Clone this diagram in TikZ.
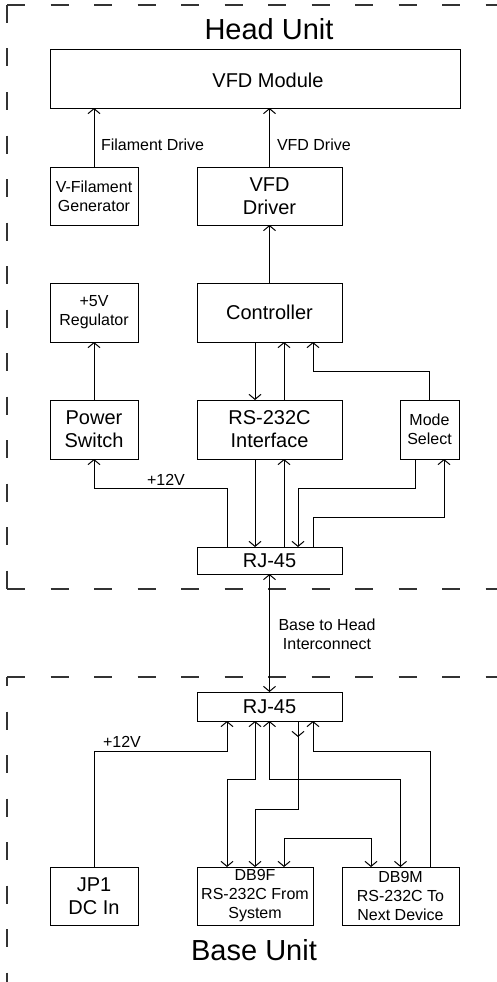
\documentclass[tikz,border=0pt]{standalone}
\usepackage{fontspec}
\setmainfont{Liberation Sans}
\usetikzlibrary{arrows.meta}
\begin{document}
\begin{tikzpicture}[x=1pt,y=-1pt,
  box/.style={draw,line width=1pt,inner sep=0pt,outer sep=0pt,align=center},
  sm/.style={font=\fontsize{16}{19}\selectfont},
  md/.style={font=\fontsize{20}{23}\selectfont},
  ttl/.style={font=\fontsize{29}{33}\selectfont},
  lbl/.style={inner sep=0pt,outer sep=0pt},
  conn/.style={line width=1pt},
  >={Straight Barb[length=5pt,width=12pt]},
  fdash/.style={line width=1.2pt,draw=black!80,dash pattern=on 18pt off 25.5pt}]
\useasboundingbox (0,0) rectangle (496,982);

% frames
\draw[fdash] (7,5) -- (7,589);
\draw[fdash] (7,5) -- (7.01,5) -- (520,5);
\draw[fdash] (7,589) -- (7.01,589) -- (520,589);
\draw[fdash] (7,677) -- (7.01,677) -- (520,677);
\draw[fdash,dash phase=9pt] (7,677) -- (7,1000);

% titles
\node[lbl,ttl,anchor=base] (headt) at (269,40) {Head Unit};
\node[lbl,ttl,anchor=base] (baset) at (254,960) {Base Unit};

% head boxes
\node[box,minimum width=410pt,minimum height=58pt] (vfdmod) at (255,79) {};
\node[lbl,md,anchor=base] (vfdmodt) at (268,87) {VFD Module};
\node[box,sm,minimum width=88pt,minimum height=58pt] (vfil) at (94,196) {V-Filament\\Generator};
\node[box,md,minimum width=145pt,minimum height=58pt] (vfddrv) at (269.5,196) {VFD\\Driver};
\node[box,sm,minimum width=88pt,minimum height=59pt] (reg) at (94,312.5) {+5V\\Regulator};
\node[box,md,minimum width=145pt,minimum height=59pt] (ctrl) at (269.5,312.5) {Controller};
\node[box,md,minimum width=88pt,minimum height=59pt] (pwr) at (94,429.5) {Power\\Switch};
\node[box,md,minimum width=145pt,minimum height=59pt] (rs) at (269.5,429.5) {RS-232C\\Interface};
\node[box,sm,minimum width=59pt,minimum height=59pt] (mode) at (429.5,429.5) {Mode\\Select};
\node[box,md,minimum width=145pt,minimum height=27pt] (rjh) at (269.5,560.5) {RJ-45};

% base boxes
\node[box,md,minimum width=145pt,minimum height=29pt] (rjb) at (269.5,706.5) {RJ-45};
\node[box,md,minimum width=88pt,minimum height=58pt] (jp1) at (94,896) {JP1\\DC In};
\node[box,sm,minimum width=116pt,minimum height=58pt] (db9f) at (255,896) {DB9F\\RS-232C From\\System};
\node[box,sm,minimum width=117pt,minimum height=58pt] (db9m) at (400.5,896) {DB9M\\RS-232C To\\Next Device};

% head connectors
\draw[conn,->] (vfil.north) -- (vfil.north |- vfdmod.south);
\node[lbl,sm,anchor=base west] (fdl) at (101,150) {Filament Drive};
\draw[conn,->] (vfddrv.north) -- (vfddrv.north |- vfdmod.south);
\node[lbl,sm,anchor=base west] (vdl) at (277,150) {VFD Drive};
\draw[conn,->] (ctrl.north) -- (vfddrv.south);
\draw[conn,->] (pwr.north) -- (reg.south);
\draw[conn,->] ([xshift=-14.5pt]ctrl.south) -- ([xshift=-14.5pt]rs.north);
\draw[conn,->] ([xshift=14.5pt]rs.north) -- ([xshift=14.5pt]ctrl.south);
\draw[conn,->] (mode.north) -- ++(0,-29) -| ([xshift=43.5pt]ctrl.south);
\draw[conn,->] ([xshift=-42.5pt]rjh.north) -- ++(0,-59) -| (pwr.south);
\node[lbl,sm,anchor=base] (v12h) at (166,485) {+12V};
\draw[conn,->] ([xshift=-14.5pt]rs.south) -- ([xshift=-14.5pt]rjh.north);
\draw[conn,->] ([xshift=14.5pt]rjh.north) -- ([xshift=14.5pt]rs.south);
\draw[conn,->] ([xshift=-14.5pt]mode.south) -- ++(0,29) -| ([xshift=28.5pt]rjh.north);
\draw[conn,->] ([xshift=43.5pt]rjh.north) -- ++(0,-30) -| ([xshift=14.5pt]mode.south);

% interconnect
\draw[conn,<->] (rjh.south) -- (rjb.north);
\node[lbl,sm,align=center] (icl) at (327,634) {Base to Head\\Interconnect};

% base connectors
\draw[conn,->] (jp1.north) -- ++(0,-116) -| ([xshift=-42.5pt]rjb.south);
\node[lbl,sm,anchor=base] (v12b) at (122,747) {+12V};
\draw[conn,<->] ([xshift=-14.5pt]rjb.south) -- ++(0,58) -| ([xshift=-28pt]db9f.north);
\draw[conn,<->] (rjb.south) -- ++(0,58) -| (db9m.north);
\draw[conn,->] ([xshift=28.5pt]rjb.south) -- ++(0,88) -| (db9f.north);
\draw[conn,->] ([xshift=28.5pt]rjb.south) -- ++(0,16);
\draw[conn,<-] ([xshift=43.5pt]rjb.south) -- ++(0,30) -| ([xshift=29.5pt]db9m.north);
\draw[conn,<->] ([xshift=29pt]db9f.north) -- ++(0,-29) -| ([xshift=-29.5pt]db9m.north);
\end{tikzpicture}
\end{document}
